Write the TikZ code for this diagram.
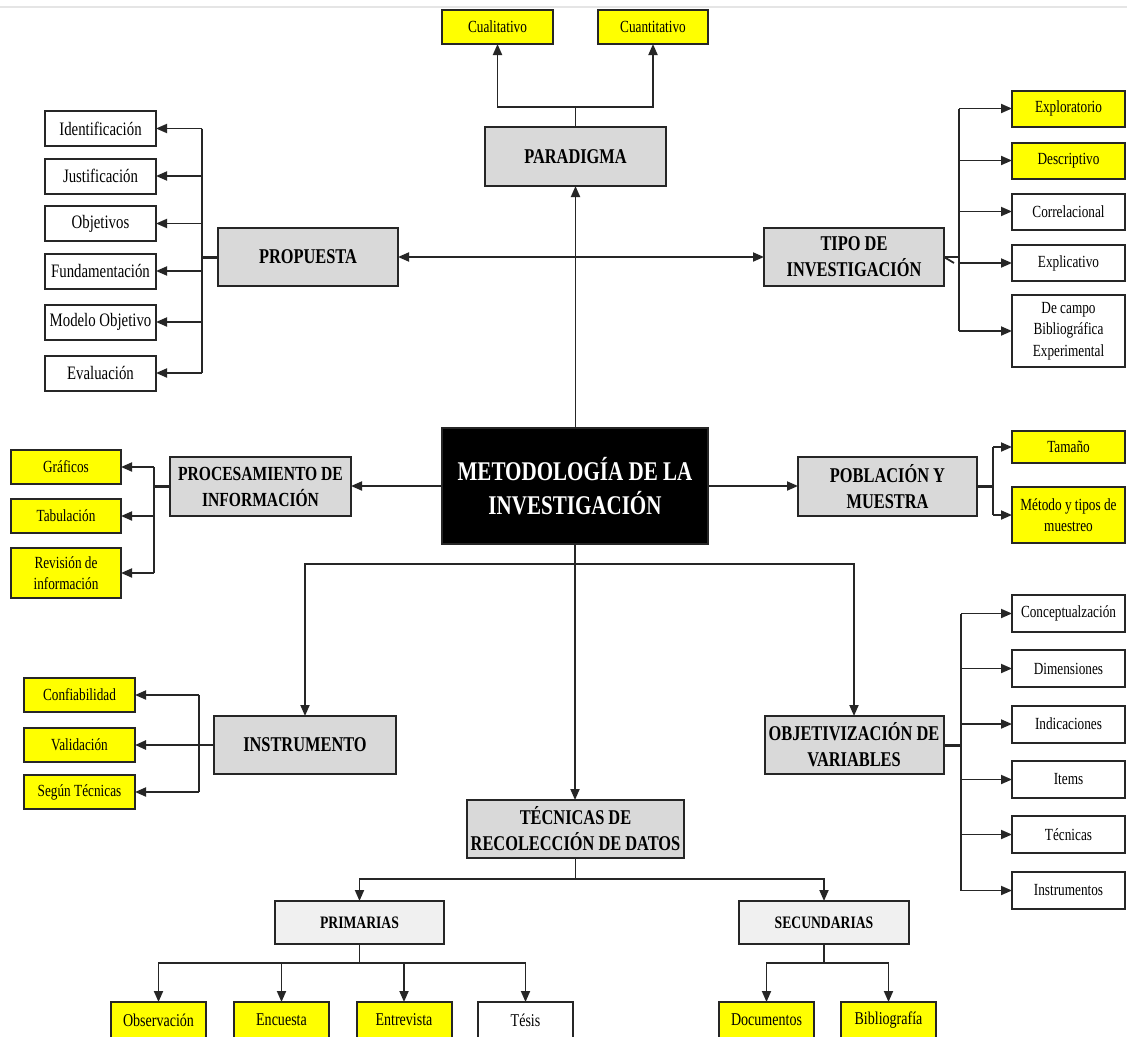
\documentclass[tikz,border=0pt]{standalone}
\usepackage{fontspec}
\setmainfont{Liberation Serif}[FakeStretch=0.78]
\usetikzlibrary{arrows.meta}
\definecolor{boxgray}{HTML}{D9D9D9}
\definecolor{lightbox}{HTML}{F0F0F0}
\definecolor{ylw}{HTML}{FFFF00}
\newcommand\fsz[2]{\fontsize{#1}{#2}\selectfont}
\begin{document}
\begin{tikzpicture}[x=1pt,y=-1pt,
 box/.style={draw=black!85,line width=2pt,inner sep=0pt,outer sep=0pt,align=center},
 gbox/.style={box,fill=boxgray,font=\bfseries\fsz{21}{26}},
 lbox/.style={box,fill=lightbox,font=\bfseries\fsz{17.5}{21}},
 wbox/.style={box,fill=white,font=\fsz{17}{21.5}},
 ybox/.style={box,fill=ylw,font=\fsz{17}{21.5}},
 conn/.style={line width=1.8pt,draw=black!85},
 arr/.style={conn,-{Triangle[length=11pt,width=9pt]}},
 sz/.style 2 args={minimum width=#1pt,minimum height=#2pt},
]
\useasboundingbox (0,0) rectangle (1127,1036);
\fill[white] (0,0) rectangle (1127,1036);
\draw[black!10,line width=2pt] (0,7) -- (1127,7);

% top
\node[ybox,sz={111}{34}] (cual) at (497.5,27) {Cualitativo};
\node[ybox,sz={110}{34}] (cuan) at (653,27) {Cuantitativo};
\node[gbox,sz={181}{59}] (parad) at (575.5,156.5) {PARADIGMA};

% propuesta and tipo
\node[gbox,sz={180}{58}] (prop) at (308,257) {PROPUESTA};
\node[gbox,sz={180}{58}] (tipo) at (854,257) {TIPO DE\\INVESTIGACIÓN};

% left list
\node[wbox,sz={111}{35},font=\fsz{19}{22}] (ident) at (100.5,128.5) {Identificación};
\node[wbox,sz={111}{35},font=\fsz{19}{22}] (just) at (100.5,176) {Justificación};
\node[wbox,sz={111}{35},font=\fsz{19}{22}] (obj) at (100.5,223.5) {Objetivos};
\node[wbox,sz={111}{35},font=\fsz{19}{22}] (fund) at (100.5,271) {Fundamentación};
\node[wbox,sz={111}{35},font=\fsz{19}{22}] (mod) at (100.5,322) {Modelo Objetivo};
\node[wbox,sz={111}{35},font=\fsz{19}{22}] (eval) at (100.5,373) {Evaluación};

% right list (tipo)
\node[ybox,sz={113}{36}] (expl) at (1068.5,108.5) {Exploratorio};
\node[ybox,sz={113}{36}] (desc) at (1068.5,160.5) {Descriptivo};
\node[wbox,sz={113}{36}] (corr) at (1068.5,211.5) {Correlacional};
\node[wbox,sz={113}{36}] (expc) at (1068.5,263) {Explicativo};
\node[wbox,sz={113}{72}] (dcam) at (1068.5,331) {De campo\\Bibliográfica\\Experimental};

% center
\node[box,fill=black,text=white,sz={266}{116},font=\bfseries\fsz{27}{34}] (meto) at (575,486) {METODOLOGÍA DE LA\\INVESTIGACIÓN};

% procesamiento
\node[gbox,sz={181}{59},font=\bfseries\fsz{20}{26}] (proc) at (260.5,486.5) {PROCESAMIENTO DE\\INFORMACIÓN};
\node[ybox,sz={110}{34}] (graf) at (66,467) {Gráficos};
\node[ybox,sz={110}{34}] (tab) at (66,516) {Tabulación};
\node[ybox,sz={110}{50}] (rev) at (66,573) {Revisión de\\información};

% poblacion
\node[gbox,sz={179}{59}] (pob) at (887.5,486.5) {POBLACIÓN Y\\MUESTRA};
\node[ybox,sz={113}{32}] (tam) at (1068.5,447) {Tamaño};
\node[ybox,sz={113}{56}] (metd) at (1068.5,515) {Método y tipos de\\muestreo};

% instrumento
\node[gbox,sz={182}{58}] (instr) at (305,745) {INSTRUMENTO};
\node[ybox,sz={111}{34}] (conf) at (79.5,695) {Confiabilidad};
\node[ybox,sz={111}{34}] (valid) at (79.5,745) {Validación};
\node[ybox,sz={111}{34}] (segun) at (79.5,792) {Según Técnicas};

% objetivizacion
\node[gbox,sz={179}{58}] (objv) at (854,745) {OBJETIVIZACIÓN DE\\VARIABLES};
\node[wbox,sz={113}{37}] (conc) at (1068.5,613.5) {Conceptualzación};
\node[wbox,sz={113}{37}] (dimn) at (1068.5,668.5) {Dimensiones};
\node[wbox,sz={113}{37}] (indc) at (1068.5,724) {Indicaciones};
\node[wbox,sz={113}{37}] (item) at (1068.5,779.5) {Items};
\node[wbox,sz={113}{37}] (tecs) at (1068.5,834.5) {Técnicas};
\node[wbox,sz={113}{37}] (insts) at (1068.5,890.5) {Instrumentos};

% tecnicas
\node[gbox,sz={217}{58}] (tecn) at (575.5,829) {TÉCNICAS DE\\RECOLECCIÓN DE DATOS};
\node[lbox,sz={169}{43}] (prim) at (359.5,922.5) {PRIMARIAS};
\node[lbox,sz={170}{43}] (secu) at (824,922.5) {SECUNDARIAS};
\node[ybox,sz={95}{36},font=\fsz{18}{21}] (obs) at (158.5,1020) {Observación};
\node[ybox,sz={95}{36},font=\fsz{18}{21}] (enc) at (281.5,1020) {Encuesta};
\node[ybox,sz={95}{36},font=\fsz{18}{21}] (entr) at (404,1020) {Entrevista};
\node[wbox,sz={95}{36},font=\fsz{18}{21}] (tes) at (525.5,1020) {Tésis};
\node[ybox,sz={95}{36},font=\fsz{18}{21}] (docs) at (766.5,1020) {Documentos};
\node[ybox,sz={95}{36},font=\fsz{18}{21}] (bib) at (888.5,1020) {Bibliografía};

% ---- connectors ----
\coordinate (pj) at (575.5,107);
\draw[conn] (parad.north) -- (pj);
\draw[arr] (pj) -| (cual.south);
\draw[arr] (pj) -| (cuan.south);
\draw[arr] (meto.north -| parad.south) -- (parad.south);
\draw[arr,{Triangle[length=11pt,width=9pt]}-{Triangle[length=11pt,width=9pt]}] (prop.east) -- (tipo.west);

\coordinate (lt) at (202,257);
\draw[conn] (ident.east -| lt) -- (eval.east -| lt);
\draw[conn,line width=3pt] (prop.west) -- (lt);
\foreach \n in {ident,just,obj,fund,mod,eval} \draw[arr] (\n.east -| lt) -- (\n.east);

\coordinate (rt) at (959,257);
\draw[conn] (expl.west -| rt) -- (dcam.west -| rt);
\draw[conn,line width=2.6pt] (tipo.east) -- (rt);
\draw[conn] (tipo.east) -- ++(10,6);
\foreach \n in {expl,desc,corr,expc,dcam} \draw[arr] (\n.west -| rt) -- (\n.west);

\draw[arr] (meto.west) -- (meto.west -| proc.east);
\coordinate (pt) at (154,486.5);
\draw[conn] (graf.east -| pt) -- (rev.east -| pt);
\draw[conn,line width=2.6pt] (proc.west) -- (pt);
\foreach \n in {graf,tab,rev} \draw[arr] (\n.east -| pt) -- (\n.east);

\draw[arr] (meto.east) -- (meto.east -| pob.west);
\coordinate (pbt) at (993,486.5);
\draw[conn] (tam.west -| pbt) -- (metd.west -| pbt);
\draw[conn,line width=2.6pt] (pob.east) -- (pbt);
\foreach \n in {tam,metd} \draw[arr] (\n.west -| pbt) -- (\n.west);

\coordinate (cb) at (575,564);
\draw[arr] (meto.south) -- (meto.south |- tecn.north);
\draw[arr] (cb) -| (instr.north);
\draw[arr] (cb) -| (objv.north);

\coordinate (it) at (199,745);
\draw[conn] (conf.east -| it) -- (segun.east -| it);
\draw[arr,line width=2.4pt] (instr.west) -- (valid.east);
\foreach \n in {conf,segun} \draw[arr] (\n.east -| it) -- (\n.east);

\coordinate (ot) at (961,745);
\draw[conn] (conc.west -| ot) -- (insts.west -| ot);
\draw[conn,line width=3pt] (objv.east) -- (ot);
\foreach \n in {conc,dimn,indc,item,tecs,insts} \draw[arr] (\n.west -| ot) -- (\n.west);

\coordinate (tj) at (575.5,879);
\draw[conn] (tecn.south) -- (tj);
\draw[arr] (tj) -| (prim.north);
\draw[arr] (tj) -| (secu.north);

\coordinate (prj) at (359.5,963);
\draw[conn] (prim.south) -- (prj);
\foreach \n in {obs,enc,entr,tes} \draw[arr] (prj) -| (\n.north);

\coordinate (sj) at (824,963);
\draw[conn] (secu.south) -- (sj);
\foreach \n in {docs,bib} \draw[arr] (sj) -| (\n.north);
\end{tikzpicture}
\end{document}
